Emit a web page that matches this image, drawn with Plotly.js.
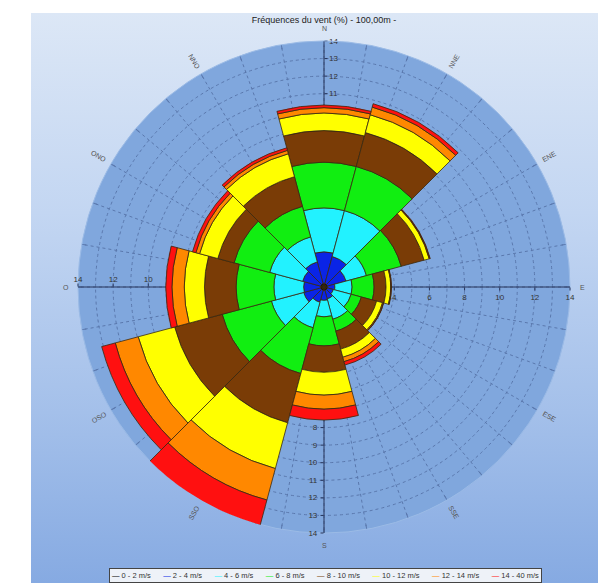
<!DOCTYPE html>
<html>
<head>
<meta charset="utf-8">
<script src="https://cdn.plot.ly/plotly-3.0.1.min.js"></script>
<style>
html,body{margin:0;padding:0;background:#fff;}
#panel{position:absolute;left:31px;top:13px;width:567px;height:570px;
 background:linear-gradient(to bottom,#dce7f6 0%,#c3d6f2 35%,#a4c0ea 70%,#86aae2 100%);}
#chart{position:absolute;left:0;top:0;width:598px;height:583px;}
</style>
</head>
<body>
<div id="panel"></div>
<div id="chart"></div>
<script>
// ---- data (wind frequency %, per speed bin, per direction sector) ----
const directions = ['N','NNE','ENE','E','ESE','SSE','S','SSO','OSO','O','ONO','NNO'];
const angles = [0,30,60,90,120,150,180,210,240,270,300,330];
const speedBins = ['0 - 2 m/s','2 - 4 m/s','4 - 6 m/s','6 - 8 m/s','8 - 10 m/s','10 - 12 m/s','12 - 14 m/s','14 - 40 m/s'];
const f0_2   = [0.2, 0.2, 0.2, 0.2, 0.2, 0.2, 0.2, 0.2, 0.2, 0.2, 0.2, 0.2];
const f2_4   = [1.8, 1.6, 1.1, 0.42, 0.35, 0.5, 0.56, 0.7, 1.0, 0.96, 1.06, 1.28];
const f4_6   = [2.5, 2.7, 1.2, 0.98, 1.05, 1.2, 0.94, 1.5, 1.9, 1.69, 1.94, 1.47];
const f6_8   = [2.6, 2.6, 2.05, 1.25, 0.6, 0.7, 1.65, 2.7, 2.9, 2.15, 2.1, 1.8];
const f8_10  = [1.8, 2.0, 1.35, 0.68, 0.9, 1.06, 1.5, 2.9, 2.8, 1.8, 0.96, 1.75];
const f10_12 = [1.0, 1.05, 0.3, 0.27, 0.35, 0.48, 1.3, 2.7, 2.15, 1.15, 1.07, 1.35];
const f12_14 = [0.3, 0.45, 0.03, 0.02, 0.05, 0.26, 0.8, 1.85, 1.35, 0.7, 0.22, 0.2];
const f14_40 = [0.15, 0.2, 0.03, 0.02, 0.02, 0.2, 0.62, 1.5, 0.8, 0.35, 0.2, 0.15];
const seriesValues = [f0_2, f2_4, f4_6, f6_8, f8_10, f10_12, f12_14, f14_40];
const binColors = ['#000000','#0a24e6','#22f2ff','#11ee11','#7a3c06','#ffff00','#ff8800','#ff1010'];
const tickAll = [1,2,3,4,5,6,7,8,9,10,11,12,13,14];
const tickEven = [2,4,6,8,10,12,14];
const titleText = 'Fréquences du vent (%) - 100,00m -';

// ---- geometry of the plot ----
const W = 598, H = 583, cx = 324, cy = 287, R = 246;
const dom = {x:[(cx-R)/W,(cx+R)/W], y:[1-(cy+R)/H, 1-(cy-R)/H]};

const traces = [];
// empty traces so that the axis-only polar subplots get drawn
['polar','polar2','polar3'].forEach(s=>traces.push({type:'scatterpolar', r:[], theta:[], subplot:s, showlegend:false, hoverinfo:'skip'}));
seriesValues.forEach((v,i)=>traces.push({
  type:'barpolar', r:v, theta:angles, width:30, name:speedBins[i],
  subplot:'polar4', showlegend:false,
  marker:{color:binColors[i], line:{color:'#3a2a10', width:0.8}}
}));

const axFont = {family:'Liberation Sans, Arial, sans-serif', size:8, color:'#333'};
function radial(angle, vals, side, tickangle, extra){
  return Object.assign({range:[0,14], angle:angle, tickvals:vals, ticktext:vals.map(String),
    showline:true, linecolor:'#26345a', linewidth:1, ticks:'outside', ticklen:3, tickcolor:'#26345a',
    tickfont:axFont, side:side, showgrid:false, layer:'below traces', tickangle:tickangle}, extra||{});
}
const angHidden = {rotation:90, direction:'clockwise', showgrid:false, showline:false,
  showticklabels:false, ticks:''};

const layout = {
  width:W, height:H, margin:{l:0,r:0,t:0,b:0},
  paper_bgcolor:'rgba(0,0,0,0)', plot_bgcolor:'rgba(0,0,0,0)',
  showlegend:false,
  title:{text:titleText, font:{family:'Liberation Sans, Arial, sans-serif', size:9, color:'#222'},
    x:cx/W, xanchor:'center', y:1-20/H, yanchor:'middle'},
  polar:{domain:dom, bgcolor:'#80a7dd',
    radialaxis:radial(90, tickAll, 'clockwise', 90, {showgrid:true, gridcolor:'#5a78ad', griddash:'dot', gridwidth:1}),
    angularaxis:{rotation:90, direction:'clockwise', dtick:10, showgrid:true, gridcolor:'#5a78ad', griddash:'dot',
      showline:true, linecolor:'#9bbbe6', showticklabels:false, ticks:'inside', ticklen:4, tickcolor:'#5a78ad'}},
  polar2:{domain:dom, bgcolor:'rgba(0,0,0,0)', radialaxis:radial(270, tickAll, 'clockwise', -90), angularaxis:angHidden},
  polar3:{domain:dom, bgcolor:'rgba(0,0,0,0)', radialaxis:radial(180, tickEven, 'clockwise', 180), angularaxis:angHidden},
  polar4:{domain:dom, bgcolor:'rgba(0,0,0,0)', barmode:'stack', radialaxis:radial(0, tickEven, 'clockwise', 0), angularaxis:angHidden},
  annotations:[]
};

// direction labels around the rose
const lblFont = {family:'Liberation Sans, Arial, sans-serif', size:7, color:'#555'};
directions.forEach((d,i)=>{
  const a = angles[i]*Math.PI/180;
  const card = angles[i]%90===0;
  const rr = card ? R+12 : R+14;
  const x = cx + rr*Math.sin(a), y = cy - rr*Math.cos(a);
  let ta = 0;
  if(!card){ ta = angles[i] - (angles[i]>180? 270: 90); }
  layout.annotations.push({text:d, x:x/W, y:1-y/H, xref:'paper', yref:'paper', showarrow:false,
    font:lblFont, textangle:ta, xanchor:'center', yanchor:'middle'});
});

// legend as a boxed line of text with coloured dashes
const legendText = speedBins.map((b,i)=>'<span style="color:'+binColors[i]+'">—</span> '+b).join('      ');
layout.annotations.push({text:legendText, x:325/W, y:1-575/H, xref:'paper', yref:'paper', showarrow:false,
  font:{family:'Liberation Sans, Arial, sans-serif', size:7.5, color:'#333'}, bgcolor:'#eef2f8',
  bordercolor:'#444', borderwidth:1, borderpad:2, xanchor:'center', yanchor:'middle'});

Plotly.newPlot('chart', traces, layout, {displayModeBar:false, staticPlot:true});
</script>
</body>
</html>
